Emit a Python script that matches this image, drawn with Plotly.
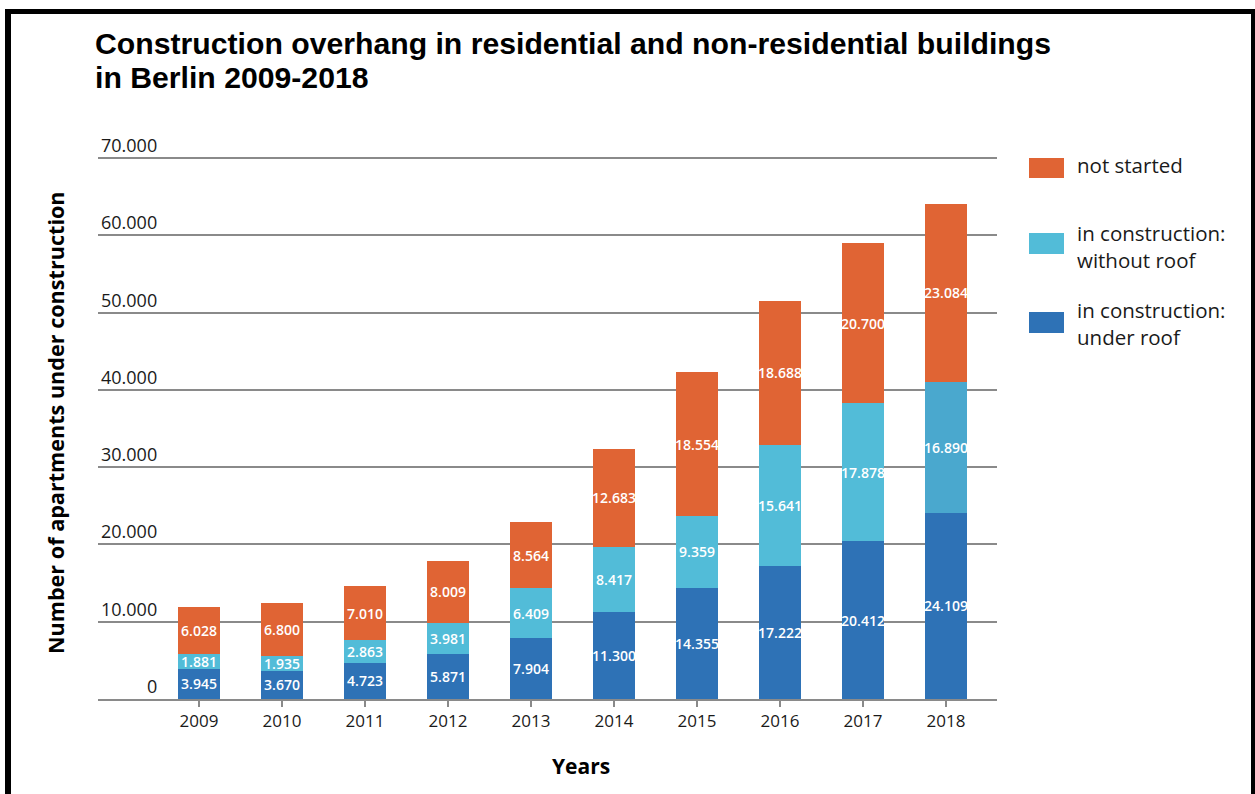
import plotly.graph_objects as go

# ---- data -------------------------------------------------------------
YEARS = ["2009", "2010", "2011", "2012", "2013", "2014", "2015", "2016", "2017", "2018"]
UNDER_ROOF = [3945, 3670, 4723, 5871, 7904, 11300, 14355, 17222, 20412, 24109]
WITHOUT_ROOF = [1881, 1935, 2863, 3981, 6409, 8417, 9359, 15641, 17878, 16890]
NOT_STARTED = [6028, 6800, 7010, 8009, 8564, 12683, 18554, 18688, 20700, 23084]
Y_TICKS = [0, 10000, 20000, 30000, 40000, 50000, 60000, 70000]

SERIES_NAMES = ["in construction:<br>under roof", "in construction:<br>without roof", "not started"]
TITLE_LINES = ["Construction overhang in residential and non-residential buildings",
               "in Berlin 2009-2018"]
Y_TITLE = "Number of apartments under construction"
X_TITLE = "Years"

# ---- styling ----------------------------------------------------------
C_DARK = "#2E72B6"
C_LIGHT = "#52BCD8"
C_LIGHT_LAST = "#4AA8CE"
C_ORANGE = "#E06434"
GRID = "#8a8a8a"
FONT = "Open Sans"

W, H = 1255, 794
L, R, T, B = 98, 258, 153, 95
PW, PH = W - L - R, H - T - B
Y_TOP_PX = 158                                   # pixel row of the 70.000 line
Y_MAX = 70000 * PH / (H - B - Y_TOP_PX)          # headroom so the top grid line shows


def px_x(px):
    return (px - L) / PW


def px_y(py):
    return (H - B - py) / PH


def dotted(v):
    return f"{v:,}".replace(",", ".")


fig = go.Figure()

light_colors = [C_LIGHT] * (len(YEARS) - 1) + [C_LIGHT_LAST]
for vals, color, name in [
    (UNDER_ROOF, C_DARK, SERIES_NAMES[0]),
    (WITHOUT_ROOF, light_colors, SERIES_NAMES[1]),
    (NOT_STARTED, C_ORANGE, SERIES_NAMES[2]),
]:
    fig.add_trace(go.Bar(
        x=YEARS, y=vals, name=name,
        marker=dict(color=color, line=dict(width=0)),
        text=[dotted(v) for v in vals],
        textposition="inside", insidetextanchor="middle",
        textangle=0, constraintext="none",
        textfont=dict(family=FONT, size=14, color="white", weight=600),
        showlegend=False, hoverinfo="x+y+name",
    ))

annotations = []
# y tick labels, right aligned and sitting on top of each grid line
for v in Y_TICKS:
    annotations.append(dict(
        x=px_x(159), xref="paper", xanchor="right",
        y=v, yref="y", yanchor="bottom", yshift=-1,
        text=dotted(v), showarrow=False,
        font=dict(family=FONT, size=18, color="#1a1a1a"),
    ))

# title (two lines)
for line, cy in zip(TITLE_LINES, [43, 77]):
    annotations.append(dict(
        x=px_x(93), xref="paper", xanchor="left",
        y=px_y(cy), yref="paper", yanchor="middle",
        text=f"<b>{line}</b>", showarrow=False,
        font=dict(family="Liberation Sans, Arial", size=30.2, color="#000"),
    ))

# axis titles
annotations.append(dict(
    x=px_x(55), xref="paper", xanchor="center",
    y=px_y(423), yref="paper", yanchor="middle",
    text=f"<b>{Y_TITLE}</b>", textangle=-90, showarrow=False,
    font=dict(family=FONT, size=21.6, color="#000"),
))
annotations.append(dict(
    x=px_x(581), xref="paper", xanchor="center",
    y=px_y(766), yref="paper", yanchor="middle",
    text=f"<b>{X_TITLE}</b>", showarrow=False,
    font=dict(family=FONT, size=21, color="#000"),
))

# legend: swatches + labels, top to bottom
shapes = []
legend_rows = [
    (SERIES_NAMES[2], C_ORANGE, 158, 178, 165),
    (SERIES_NAMES[1], C_LIGHT, 233, 254, 246.5),
    (SERIES_NAMES[0], C_DARK, 312, 333, 323.5),
]
for name, color, y0, y1, ty in legend_rows:
    shapes.append(dict(
        type="rect", xref="paper", yref="paper",
        x0=px_x(1029), x1=px_x(1064), y0=px_y(y1), y1=px_y(y0),
        fillcolor=color, line=dict(width=0),
    ))
    annotations.append(dict(
        x=px_x(1076), xref="paper", xanchor="left",
        y=px_y(ty), yref="paper", yanchor="middle",
        text=name, align="left", showarrow=False, borderpad=0,
        font=dict(family=FONT, size=20.5, color="#1a1a1a"),
    ))

# black frame along the top and both sides
for x0, x1, y0, y1 in [(5, 1255, 9, 14), (5, 11, 9, 800), (1251, 1256, 9, 800)]:
    shapes.append(dict(
        type="rect", xref="paper", yref="paper",
        x0=px_x(x0), x1=px_x(x1), y0=px_y(y1), y1=px_y(y0),
        fillcolor="#000", line=dict(width=0), layer="above",
    ))

fig.update_layout(
    width=W, height=H, autosize=False,
    margin=dict(l=L, r=R, t=T, b=B, pad=0),
    paper_bgcolor="white", plot_bgcolor="white",
    barmode="stack", bargap=0.495,
    separators=",.",
    font=dict(family=FONT, color="#222"),
    xaxis=dict(
        type="category", range=[-1.217, 9.614],
        showgrid=False, zeroline=False,
        showline=True, linecolor=GRID, linewidth=2,
        ticks="outside", ticklen=6, tickwidth=1.5, tickcolor=GRID,
        tickfont=dict(family=FONT, size=17, color="#1a1a1a"),
        fixedrange=True,
    ),
    yaxis=dict(
        range=[0, Y_MAX], tickvals=Y_TICKS,
        showgrid=True, gridcolor=GRID, gridwidth=2,
        zeroline=False, showline=False, showticklabels=False,
        fixedrange=True,
    ),
    annotations=annotations,
    shapes=shapes,
)

fig.write_html("out.html")
